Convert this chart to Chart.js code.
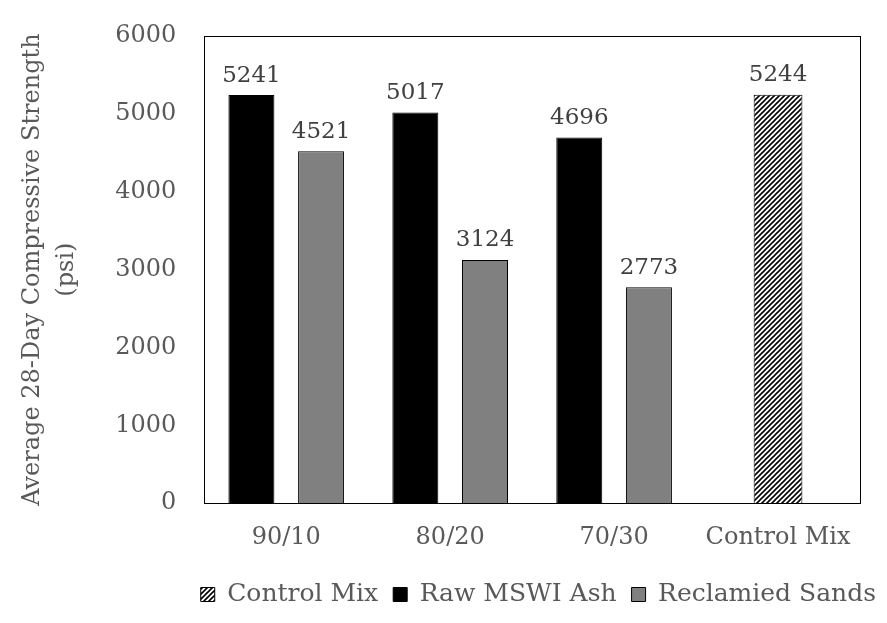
<!DOCTYPE html>
<html>
<head>
<meta charset="utf-8">
<script src="https://cdn.jsdelivr.net/npm/chart.js@4/dist/chart.umd.min.js"></script>
<style>
  html, body { margin: 0; padding: 0; background: #fff; }
  #wrap { width: 887px; height: 623px; }
</style>
</head>
<body>
<div id="wrap"><canvas id="chart" width="887" height="623"></canvas></div>
<script>
const categories = ['90/10', '80/20', '70/30', 'Control Mix'];
const controlMix = [null, null, null, 5244];
const rawAsh = [5241, 5017, 4696, null];
const reclaimedSands = [4521, 3124, 2773, null];
const yTicks = [0, 1000, 2000, 3000, 4000, 5000, 6000];

const FONT = '"DejaVu Serif", serif';
const TEXT = '#595959';

// diagonal hatch for the control mix bar
function hatch() {
  const s = 5;
  const c = document.createElement('canvas');
  c.width = s; c.height = s;
  const g = c.getContext('2d');
  g.fillStyle = '#fff';
  g.fillRect(0, 0, s, s);
  g.strokeStyle = '#000';
  g.lineWidth = 1.6;
  g.beginPath();
  g.moveTo(0, s); g.lineTo(s, 0);
  g.moveTo(-1, 1); g.lineTo(1, -1);
  g.moveTo(s - 1, s + 1); g.lineTo(s + 1, s - 1);
  g.stroke();
  return g.createPattern(c, 'repeat');
}
const hatchFill = hatch();

const frame = {
  id: 'frame',
  afterLayout(chart) {
    // the legend in the original sits a bit right of the plot's right edge
    chart.legend.left += 31;
    chart.legend.right += 31;
  },
  afterDraw(chart) {
    const { ctx, chartArea: a } = chart;
    ctx.save();
    ctx.strokeStyle = '#000';
    ctx.lineWidth = 1;
    ctx.strokeRect(Math.round(a.left) + 0.5, Math.round(a.top) + 0.5,
      Math.round(a.right - a.left), Math.round(a.bottom - a.top));
    ctx.restore();
  }
};

const valueLabels = {
  id: 'valueLabels',
  afterDatasetsDraw(chart) {
    const ctx = chart.ctx;
    ctx.save();
    ctx.font = '23px ' + FONT;
    ctx.fillStyle = '#404040';
    ctx.textAlign = 'center';
    ctx.textBaseline = 'bottom';
    chart.data.datasets.forEach((ds, i) => {
      chart.getDatasetMeta(i).data.forEach((bar, j) => {
        const v = ds.data[j];
        if (v == null) return;
        ctx.fillText(String(v), bar.x, bar.y - 8);
      });
    });
    ctx.restore();
  }
};

new Chart(document.getElementById('chart'), {
  type: 'bar',
  data: {
    labels: categories,
    datasets: [
      { label: 'Control Mix', data: controlMix, backgroundColor: hatchFill,
        borderColor: '#000', borderWidth: 1, barPercentage: 0.35 },
      { label: 'Raw MSWI Ash', data: rawAsh, backgroundColor: '#000',
        borderColor: '#000', borderWidth: 1, barPercentage: 0.66 },
      { label: 'Reclamied Sands', data: reclaimedSands, backgroundColor: '#808080',
        borderColor: '#000', borderWidth: 1, barPercentage: 0.66 }
    ]
  },
  options: {
    responsive: false,
    animation: false,
    skipNull: true,
    categoryPercentage: 0.85,
    layout: { padding: { top: 36, right: 27, left: 16, bottom: 6 } },
    scales: {
      x: {
        grid: { display: false },
        border: { display: false },
        ticks: { color: TEXT, font: { family: FONT, size: 24 }, padding: 12, maxRotation: 0 },
        afterFit(scale) { scale.height += 3; }
      },
      y: {
        min: 0, max: 6000,
        afterBuildTicks(scale) { scale.ticks = yTicks.map(v => ({ value: v })); },
        grid: { display: false },
        border: { display: false },
        ticks: { color: TEXT, font: { family: FONT, size: 24 }, padding: 20,
          callback: v => String(v) },
        title: {
          display: true,
          text: ['Average 28-Day Compressive Strength', '(psi)'],
          color: TEXT,
          font: { family: FONT, size: 24, lineHeight: 1.4 },
          padding: { top: 0, bottom: 12 }
        }
      }
    },
    plugins: {
      legend: {
        position: 'bottom',
        align: 'end',
        labels: {
          color: TEXT,
          font: { family: FONT, size: 25 },
          boxWidth: 14, boxHeight: 14, padding: 15
        }
      },
      tooltip: { enabled: false }
    }
  },
  plugins: [frame, valueLabels]
});
</script>
</body>
</html>
